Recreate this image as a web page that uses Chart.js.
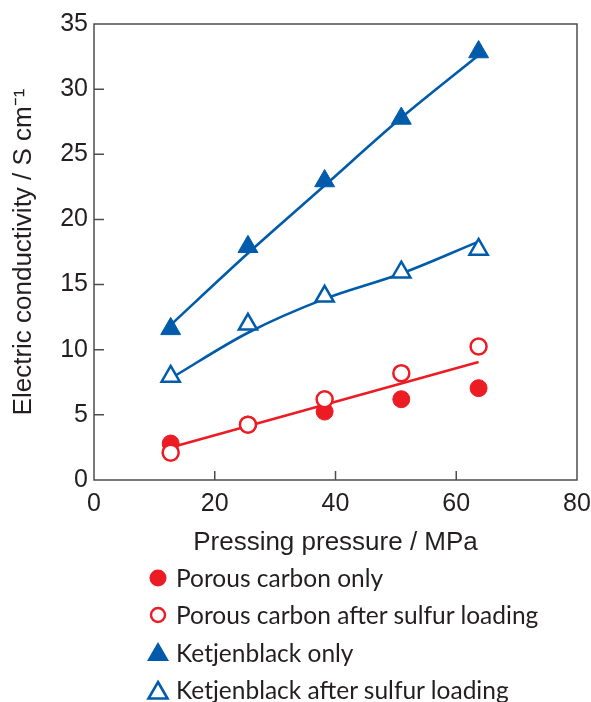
<!DOCTYPE html>
<html><head><meta charset="utf-8">
<script src="https://cdn.jsdelivr.net/npm/chart.js@4"></script>
<style>
html,body{margin:0;padding:0;background:#fff;}
#wrap{position:relative;width:591px;height:702px;overflow:hidden;}
#c{position:absolute;left:0;top:0;}
#legend{position:absolute;left:146px;top:559px;font-family:"Lato","Noto Sans",sans-serif;font-size:24.5px;color:#231f20;}
#legend .row{height:37.3px;display:flex;align-items:center;}
#legend svg{width:24px;height:24px;margin-right:6px;}
</style></head>
<body><div id="wrap"><canvas id="c" width="591" height="575"></canvas><div id="legend"></div></div>
<script>
const pressure = [12.7, 25.5, 38.2, 50.9, 63.7];
const porousOnly = [2.8, 4.25, 5.25, 6.2, 7.05];
const porousSulfur = [2.1, 4.25, 6.2, 8.2, 10.25];
const ketjenOnly = [11.6, 17.9, 22.95, 27.75, 32.85];
const ketjenSulfur = [7.95, 11.95, 14.1, 15.95, 17.7];
const porousFitX = [12.7, 63.7];
const porousFitY = [2.5, 9.05];
const ketjenOnlyFit = [11.9, 17.4, 22.6, 27.8, 32.6];
const ketjenSulfurFit = [7.8, 11.3, 13.9, 15.85, 18.3];
const seriesNames = ["Porous carbon only","Porous carbon after sulfur loading","Ketjenblack only","Ketjenblack after sulfur loading"];
const xTicks = [0,20,40,60,80];
const yTicks = [0,5,10,15,20,25,30,35];

const RED = '#ec1c24', BLUE = '#005bab';
const FONT = '"Liberation Sans", Arial, sans-serif';
const pts = (xs, ys) => xs.map((x,i)=>({x, y: ys[i]}));

const frame = {
  id:'frame',
  afterDatasetsDraw(chart){
    const {ctx, chartArea:a, scales:{x,y}} = chart;
    ctx.save();
    ctx.strokeStyle = '#4d4d4d'; ctx.lineWidth = 1.5;
    ctx.strokeRect(a.left, a.top, a.right-a.left, a.bottom-a.top);
    ctx.beginPath();
    yTicks.forEach(v=>{ if(v===0||v===35) return; const p=y.getPixelForValue(v); ctx.moveTo(a.left,p); ctx.lineTo(a.left+10,p);});
    xTicks.forEach(v=>{ if(v===0||v===80) return; const p=x.getPixelForValue(v); ctx.moveTo(p,a.bottom); ctx.lineTo(p,a.bottom-9);});
    ctx.stroke();
    ctx.restore();
  }
};

new Chart(document.getElementById('c'), {
  type:'scatter',
  data:{datasets:[
    {label:'fitP', data: pts(porousFitX, porousFitY), showLine:true, borderColor:RED, borderWidth:2.6, pointRadius:0, order:10},
    {label:'fitK', data: pts(pressure, ketjenOnlyFit), showLine:true, borderColor:BLUE, borderWidth:2.6, pointRadius:0, tension:0.3, order:10},
    {label:'fitKS', data: pts(pressure, ketjenSulfurFit), showLine:true, borderColor:BLUE, borderWidth:2.6, pointRadius:0, cubicInterpolationMode:'monotone', order:10},
    {label:seriesNames[0], data: pts(pressure, porousOnly), pointStyle:'circle', pointRadius:8.5, backgroundColor:RED, borderColor:RED, borderWidth:1, order:5},
    {label:seriesNames[2], data: pts(pressure, ketjenOnly), pointStyle:'triangle', pointRadius:11.5, backgroundColor:BLUE, borderColor:BLUE, borderWidth:1, order:5},
    {label:seriesNames[1], data: pts(pressure, porousSulfur), pointStyle:'circle', pointRadius:8, backgroundColor:'#fff', borderColor:RED, borderWidth:2.5, order:1},
    {label:seriesNames[3], data: pts(pressure, ketjenSulfur), pointStyle:'triangle', pointRadius:10.5, backgroundColor:'#fff', borderColor:BLUE, borderWidth:2.5, order:1}
  ]},
  options:{
    responsive:false, animation:false, devicePixelRatio:1,
    layout:{padding:{top:24, right:14, left:0, bottom:17}},
    plugins:{legend:{display:false}, tooltip:{enabled:false}},
    scales:{
      x:{type:'linear', min:0, max:80, afterBuildTicks(s){s.ticks = xTicks.map(v=>({value:v}));},
        grid:{display:false, drawTicks:false}, border:{display:false},
        ticks:{padding:9, color:'#231f20', font:{family:FONT, size:25}, maxRotation:0, autoSkip:false},
        title:{display:true, text:'Pressing pressure / MPa', color:'#231f20', font:{family:FONT, size:26}, padding:{top:4,bottom:0}},
        afterFit(s){s.height = 78; s.paddingRight = 0; s.paddingLeft = 0;}
      },
      y:{type:'linear', min:0, max:35, afterBuildTicks(s){s.ticks = yTicks.map(v=>({value:v}));},
        grid:{display:false, drawTicks:false}, border:{display:false},
        ticks:{padding:6, color:'#231f20', font:{family:FONT, size:25}, autoSkip:false},
        title:{display:true, text:'Electric conductivity / S cm\u207B\u00B9', color:'#231f20', font:{family:FONT, size:26}, padding:{top:8,bottom:0}},
        afterFit(s){s.width = 94; s.paddingTop = 0; s.paddingBottom = 0;}
      }
    }
  },
  plugins:[frame]
});

const icons = [
  `<svg viewBox="0 0 24 24"><circle cx="12" cy="12" r="8.5" fill="${RED}"/></svg>`,
  `<svg viewBox="0 0 24 24"><circle cx="12" cy="12" r="7" fill="#fff" stroke="${RED}" stroke-width="2.4"/></svg>`,
  `<svg viewBox="0 0 24 24"><polygon points="12,2 23,21 1,21" fill="${BLUE}"/></svg>`,
  `<svg viewBox="0 0 24 24"><polygon points="12,4 21.5,20.5 2.5,20.5" fill="#fff" stroke="${BLUE}" stroke-width="2.6"/></svg>`
];
const lg = document.getElementById('legend');
seriesNames.forEach((n,i)=>{
  const r = document.createElement('div'); r.className='row';
  r.innerHTML = icons[i] + '<span>'+n+'</span>';
  lg.appendChild(r);
});
</script></body></html>
